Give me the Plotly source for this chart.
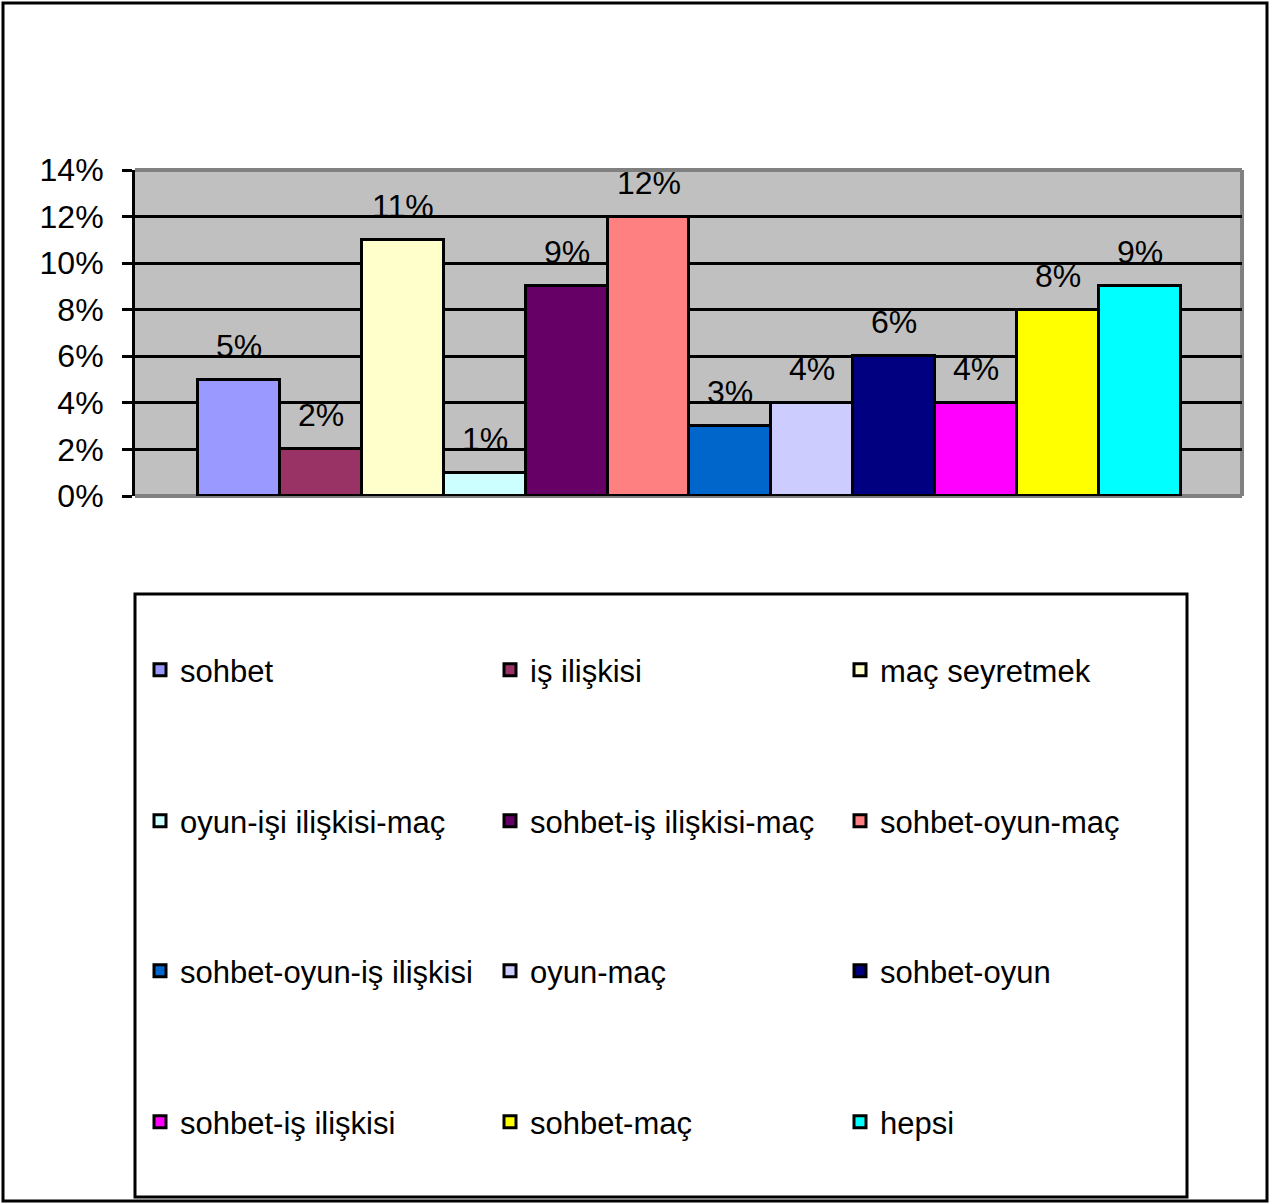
import plotly.graph_objects as go

categories = ["sohbet", "iş ilişkisi", "maç seyretmek",
              "oyun-işi ilişkisi-maç", "sohbet-iş ilişkisi-maç", "sohbet-oyun-maç",
              "sohbet-oyun-iş ilişkisi", "oyun-maç", "sohbet-oyun",
              "sohbet-iş ilişkisi", "sohbet-maç", "hepsi"]
values = [5, 2, 11, 1, 9, 12, 3, 4, 6, 4, 8, 9]
colors = ["#9999FF", "#993366", "#FFFFCC", "#CCFFFF", "#660066", "#FF8080",
          "#0066CC", "#CCCCFF", "#000080", "#FF00FF", "#FFFF00", "#00FFFF"]
y_ticks = [0, 2, 4, 6, 8, 10, 12, 14]
y_tick_labels = ["0%", "2%", "4%", "6%", "8%", "10%", "12%", "14%"]

W, H = 1270, 1203
L, R, T, B = 135, 1242, 170, 496  # plot area in pixels
pw, ph = R - L, B - T

def px(x):
    return (x - L) / pw

def py(y):
    return (B - y) / ph

FONT = "Liberation Sans, Arial, sans-serif"

fig = go.Figure()
for i, (c, v, col) in enumerate(zip(categories, values, colors)):
    r = i // 3
    fig.add_trace(go.Bar(
        x=[i], y=[v], name=c, width=1.0,
        marker=dict(color=col, line=dict(color="black", width=3)),
        legend="legend" if r == 0 else f"legend{r+1}",
        hoverinfo="name+y",
    ))
    fig.add_annotation(x=i, y=v, text=f"{v}%", showarrow=False,
                       yanchor="middle", yshift=34,
                       font=dict(family=FONT, size=32, color="black"))

legend_rows_px = [670, 821, 971, 1122]
legend_common = dict(orientation="h", entrywidth=305, entrywidthmode="pixels",
                     xanchor="left", yanchor="middle", x=px(140),
                     bgcolor="rgba(0,0,0,0)", borderwidth=0,
                     font=dict(family=FONT, size=31, color="black"),
                     traceorder="normal")
legends = {}
for r, yp in enumerate(legend_rows_px):
    key = "legend" if r == 0 else f"legend{r+1}"
    legends[key] = dict(legend_common, y=py(yp))

fig.update_layout(
    width=W, height=H,
    margin=dict(l=L, r=W - R, t=T, b=H - B, pad=0),
    paper_bgcolor="white", plot_bgcolor="#C0C0C0",
    showlegend=True,
    bargap=0,
    xaxis=dict(range=[-1.269, 12.245], showticklabels=False, showgrid=False,
               zeroline=False, showline=False, ticks=""),
    yaxis=dict(range=[0, 14], tickmode="array", tickvals=y_ticks, ticktext=y_tick_labels,
               showgrid=True, gridcolor="black", gridwidth=3,
               zeroline=False, showline=True, linecolor="black", linewidth=3,
               ticks="outside", ticklen=10, tickwidth=3, tickcolor="black",
               ticklabelstandoff=12,
               tickfont=dict(family=FONT, size=32, color="black")),
    font=dict(family=FONT),
    **legends,
)

# plot area gray border (top, right, bottom)
for (x0, y0, x1, y1) in [(0, 1, 1, 1), (1, 0, 1, 1), (0, 0, 1, 0)]:
    fig.add_shape(type="line", xref="paper", yref="paper", x0=x0, y0=y0, x1=x1, y1=y1,
                  line=dict(color="#808080", width=4), layer="between")

# legend box
fig.add_shape(type="rect", xref="paper", yref="paper",
              x0=px(135), x1=px(1187), y0=py(1197), y1=py(594),
              line=dict(color="black", width=3), fillcolor="rgba(0,0,0,0)")
# outer frame
fig.add_shape(type="rect", xref="paper", yref="paper",
              x0=px(3), x1=px(1267), y0=py(1201), y1=py(3),
              line=dict(color="black", width=3), fillcolor="rgba(0,0,0,0)")

fig.write_html("out.html")
